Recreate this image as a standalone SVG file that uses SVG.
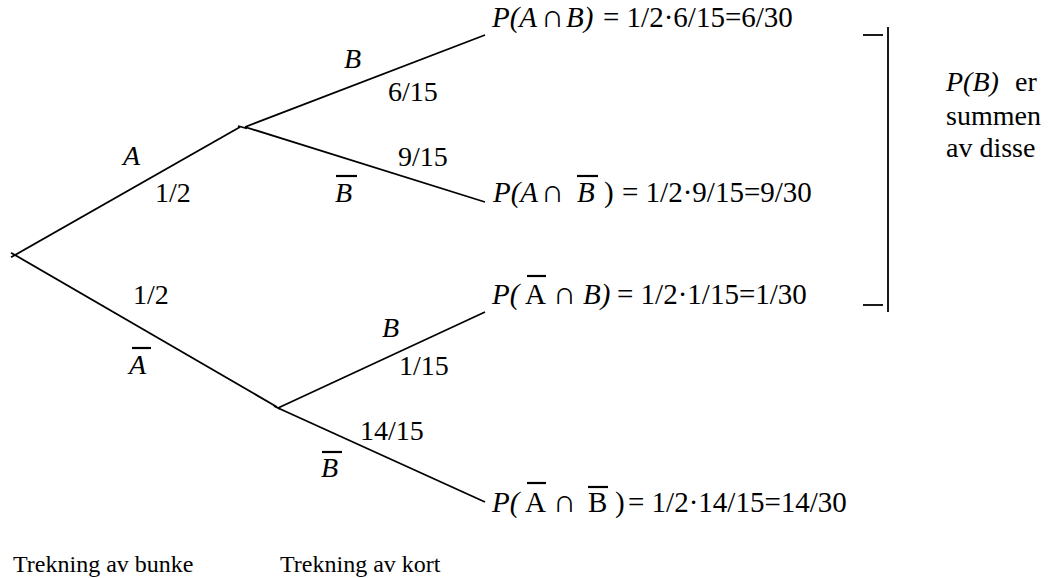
<svg xmlns="http://www.w3.org/2000/svg" width="1060" height="578" viewBox="0 0 1060 578">
<style>
.lbl{font-family:'Liberation Serif','Times New Roman',serif;font-size:28px;fill:#000}
.res{font-family:'Liberation Serif','Times New Roman',serif;font-size:29px;fill:#000}
.foot{font-family:'Liberation Serif','Times New Roman',serif;font-size:24px;fill:#000}
.it{font-style:italic}
.cap{font-size:32px}
.edge{stroke:#000;stroke-width:1.8;fill:none;stroke-linecap:butt}
.bar{stroke:#000;stroke-width:2.2}
</style>
<rect width="1060" height="578" fill="#fff"/>
<g id="connectors">
<line class="edge" x1="11" y1="257.3" x2="240" y2="127"/>
<line class="edge" x1="11" y1="252.7" x2="277" y2="407"/>
<line class="edge" x1="238" y1="126" x2="247" y2="128.5"/>
<line class="edge" x1="245" y1="127" x2="485" y2="35"/>
<line class="edge" x1="245" y1="127" x2="485" y2="202"/>
<line class="edge" x1="274" y1="406" x2="280" y2="409"/>
<line class="edge" x1="278" y1="408" x2="485" y2="312"/>
<line class="edge" x1="278" y1="408" x2="485" y2="502"/>
</g>
<g id="edge-labels">
<text class="lbl it" x="123" y="165">A</text>
<text class="lbl" x="155" y="202">1/2</text>
<text class="lbl" x="133" y="304">1/2</text>
<text class="lbl it" x="129" y="374">A</text>
<line class="bar" x1="132" y1="348" x2="151" y2="348"/>
<text class="lbl it" x="344" y="68">B</text>
<text class="lbl" x="388" y="101">6/15</text>
<text class="lbl" x="398" y="166">9/15</text>
<text class="lbl it" x="335" y="202">B</text>
<line class="bar" x1="336" y1="176" x2="357" y2="176"/>
<text class="lbl it" x="382" y="337">B</text>
<text class="lbl" x="399" y="375">1/15</text>
<text class="lbl" x="360" y="440">14/15</text>
<text class="lbl it" x="321" y="477">B</text>
<line class="bar" x1="322" y1="452" x2="342" y2="452"/>
</g>
<g id="node-AB">
<text class="res"><tspan class="it" x="492" y="27">P(A</tspan><tspan class="cap" x="541">∩</tspan><tspan class="it" x="566">B)</tspan><tspan x="603">= 1/2·6/15=6/30</tspan></text>
</g>
<g id="node-ABbar">
<text class="res"><tspan class="it" x="493" y="202">P(A</tspan><tspan class="cap" x="541">∩</tspan><tspan class="it" x="577">B</tspan><tspan x="604">)</tspan><tspan x="622">= 1/2·9/15=9/30</tspan></text>
<line class="bar" x1="577" y1="176" x2="598" y2="176"/>
</g>
<g id="node-AbarB">
<text class="res"><tspan class="it" x="492" y="304">P(</tspan><tspan x="525">A</tspan><tspan class="cap" x="553">∩</tspan><tspan class="it" x="583">B)</tspan><tspan x="617">= 1/2·1/15=1/30</tspan></text>
<line class="bar" x1="527" y1="276" x2="546" y2="276"/>
</g>
<g id="node-AbarBbar">
<text class="res"><tspan class="it" x="492" y="512">P(</tspan><tspan x="525">A</tspan><tspan class="cap" x="553">∩</tspan><tspan x="588">B</tspan><tspan x="615">)</tspan><tspan x="628">= 1/2·14/15=14/30</tspan></text>
<line class="bar" x1="527" y1="483" x2="546" y2="483"/>
<line class="bar" x1="588" y1="487" x2="608" y2="487"/>
</g>
<g id="bracket">
<line class="edge" x1="888" y1="27" x2="888" y2="312"/>
<line class="edge" x1="863" y1="35" x2="883" y2="35"/>
<line class="edge" x1="863" y1="305" x2="883" y2="305"/>
</g>
<g id="note">
<text class="lbl"><tspan class="it" x="946" y="91">P(B)</tspan><tspan x="1015">er</tspan><tspan x="946" y="125">summen</tspan><tspan x="946" y="157">av disse</tspan></text>
</g>
<g id="stage-labels">
<text class="foot" x="13" y="572">Trekning av bunke</text>
<text class="foot" x="280" y="572">Trekning av kort</text>
</g>
</svg>
